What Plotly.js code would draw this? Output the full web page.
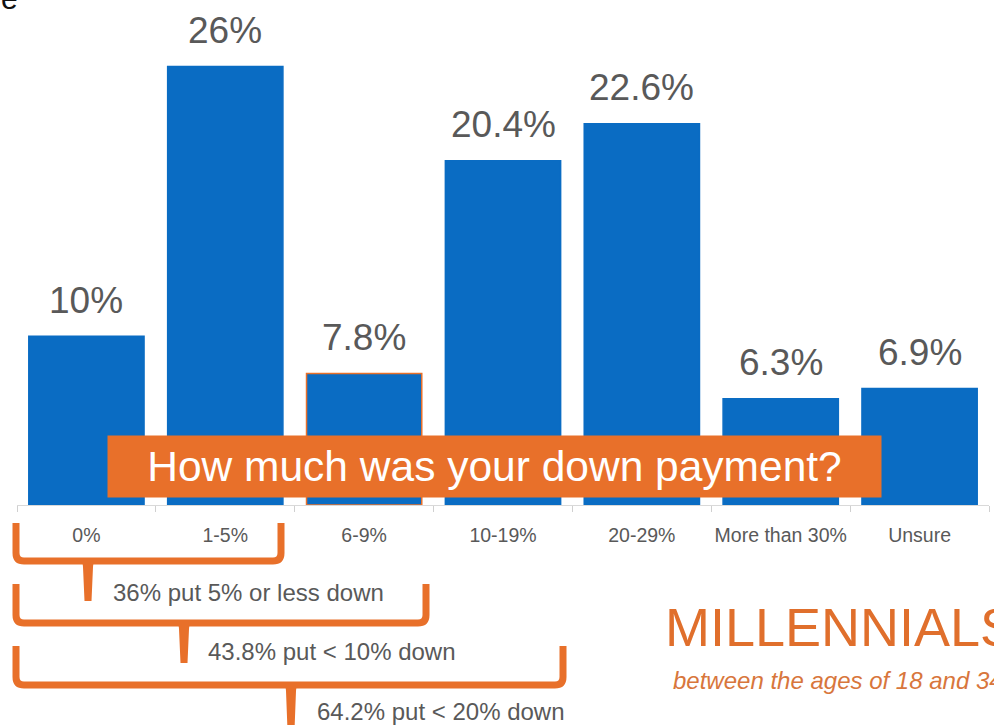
<!DOCTYPE html>
<html>
<head>
<meta charset="utf-8">
<script src="https://cdn.plot.ly/plotly-3.0.1.min.js"></script>
<style>html,body{margin:0;padding:0;background:#fff;}#chart{width:994px;height:725px;}</style>
</head>
<body>
<div id="chart"></div>
<script>
// ---- data ----
const categories = ['0%', '1-5%', '6-9%', '10-19%', '20-29%', 'More than 30%', 'Unsure'];
const shares = [10, 26, 7.8, 20.4, 22.6, 6.3, 6.9];
const shareLabels = ['10%', '26%', '7.8%', '20.4%', '22.6%', '6.3%', '6.9%'];
const questionText = 'How much was your down payment?';
const bracketTexts = ['36% put 5% or less down', '43.8% put < 10% down', '64.2% put < 20% down'];
const headline = 'MILLENNIALS';
const subline = 'between the ages of 18 and 34';

// ---- styling / geometry ----
const BLUE = '#0a6cc3';
const ORANGE = '#e8702a';
const GREY = '#595959';
const FONT = 'Liberation Sans, Arial, Helvetica, sans-serif';
const W = 994, H = 725;
const ML = 17, MR = 5, MT = 0, MB = 220;
const PW = W - ML - MR, PH = H - MT - MB;
const px = x => (x - ML) / PW;
const py = y => (PH + MT - y) / PH;

function pt(x, y) { return px(x) + ',' + py(y); }
function bracketPath(xl, xr, yt, yh, r) {
  return 'M' + pt(xl, yt) + ' L' + pt(xl, yh - r) + ' Q' + pt(xl, yh) + ' ' + pt(xl + r, yh) +
         ' L' + pt(xr - r, yh) + ' Q' + pt(xr, yh) + ' ' + pt(xr, yh - r) + ' L' + pt(xr, yt);
}
function stemPath(cx, yt, yb) {
  return 'M' + pt(cx - 9, yt) + ' Q' + pt(cx - 5, yt) + ' ' + pt(cx - 5, yt + 6) +
         ' L' + pt(cx - 3.5, yb) + ' L' + pt(cx + 3.5, yb) + ' L' + pt(cx + 5, yt + 6) +
         ' Q' + pt(cx + 5, yt) + ' ' + pt(cx + 9, yt) + ' Z';
}

const brackets = [
  {xl: 16, xr: 281, yt: 523, yh: 561, stem: 88, yb: 601, tx: 111, ty: 592},
  {xl: 16, xr: 426, yt: 584, yh: 623, stem: 184, yb: 663, tx: 206, ty: 651},
  {xl: 16, xr: 563, yt: 646, yh: 685, stem: 291, yb: 730, tx: 315, ty: 711}
];

const shapes = [];
const annotations = [];
brackets.forEach((b, i) => {
  shapes.push({type: 'path', xref: 'paper', yref: 'paper', path: bracketPath(b.xl, b.xr, b.yt, b.yh, 8),
               line: {color: ORANGE, width: 7}});
  shapes.push({type: 'path', xref: 'paper', yref: 'paper', path: stemPath(b.stem, b.yh, b.yb),
               fillcolor: ORANGE, line: {color: ORANGE, width: 0}});
  annotations.push({xref: 'paper', yref: 'paper', x: px(b.tx), y: py(b.ty), xanchor: 'left', yanchor: 'middle',
                    text: bracketTexts[i], showarrow: false, font: {family: FONT, size: 24, color: GREY}});
});

categories.forEach((c, i) => {
  annotations.push({x: c, y: shares[i], xref: 'x', yref: 'y', yanchor: 'middle', yshift: 36,
                    text: shareLabels[i], showarrow: false, font: {family: FONT, size: 37, color: GREY}});
});

annotations.push({xref: 'paper', yref: 'paper', x: px(494.5), y: py(466.5), xanchor: 'center', yanchor: 'middle',
                  text: questionText, showarrow: false, bgcolor: ORANGE, width: 773, height: 61, borderpad: 0,
                  align: 'center', valign: 'middle', font: {family: FONT, size: 42.5, color: '#ffffff'}});

annotations.push({xref: 'paper', yref: 'paper', x: px(663), y: py(627), xanchor: 'left', yanchor: 'middle',
                  text: headline, showarrow: false, font: {family: FONT, size: 54, color: '#e06f2c'}});
annotations.push({xref: 'paper', yref: 'paper', x: px(671), y: py(681), xanchor: 'left', yanchor: 'middle',
                  text: '<i>' + subline + '</i>', showarrow: false, font: {family: FONT, size: 24, color: '#d8763c'}});
annotations.push({xref: 'paper', yref: 'paper', x: px(-1), y: py(17), xanchor: 'left', yanchor: 'bottom',
                  text: 'e', showarrow: false, font: {family: FONT, size: 30, color: '#111111'}});

const lineColors = categories.map((c, i) => i === 2 ? ORANGE : BLUE);

const trace = {
  type: 'bar', x: categories, y: shares,
  marker: {color: BLUE, line: {color: lineColors, width: 1.5}},
  hoverinfo: 'skip', cliponaxis: false
};

const layout = {
  width: W, height: H,
  margin: {l: ML, r: MR, t: MT, b: MB, pad: 0},
  paper_bgcolor: '#ffffff', plot_bgcolor: '#ffffff',
  bargap: 0.17,
  showlegend: false,
  xaxis: {
    type: 'category', range: [-0.5, 6.5], showgrid: false, zeroline: false,
    showline: true, linecolor: '#d9d9d9', linewidth: 1,
    ticks: 'outside', tickson: 'boundaries', ticklen: 6, tickcolor: '#d0d0d0', tickwidth: 1,
    ticklabelstandoff: 13, tickangle: 0,
    tickfont: {family: FONT, size: 19.5, color: GREY}, fixedrange: true
  },
  yaxis: {range: [0, PH / 16.87], visible: false, showgrid: false, zeroline: false, fixedrange: true},
  shapes: shapes,
  annotations: annotations
};

Plotly.newPlot('chart', [trace], layout, {displayModeBar: false, staticPlot: true});
</script>
</body>
</html>
